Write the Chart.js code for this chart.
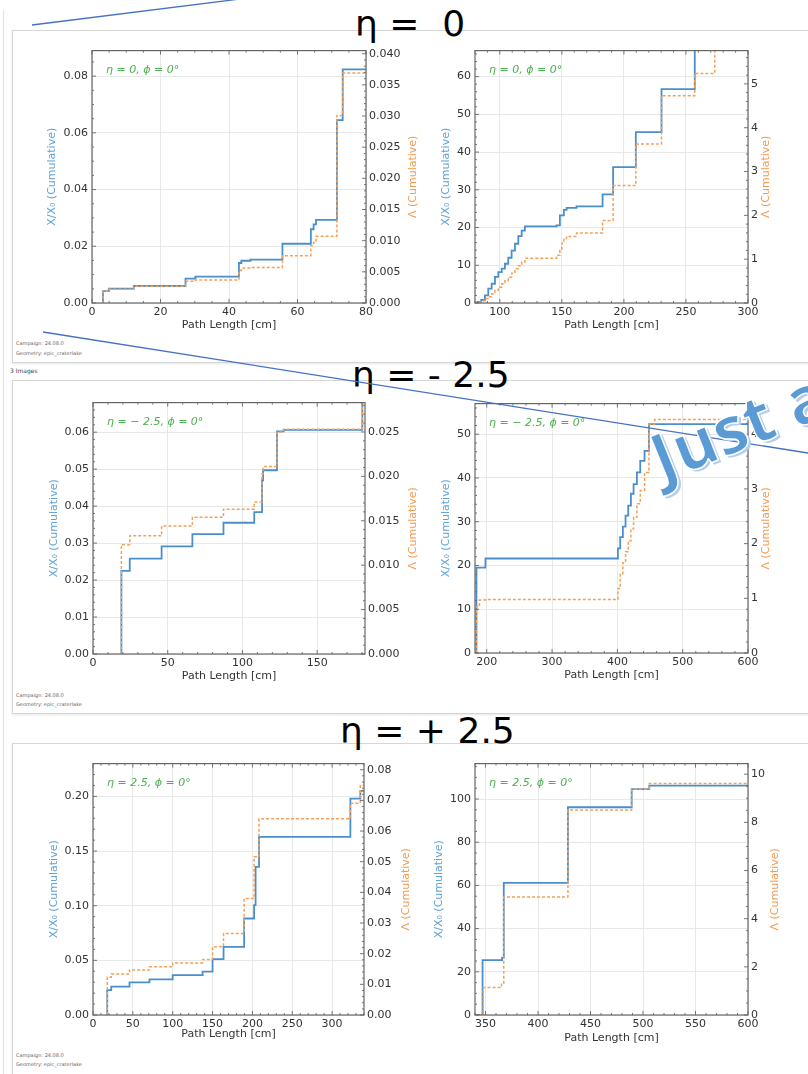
<!DOCTYPE html>
<html>
<head>
<meta charset="utf-8">
<script src="https://cdn.jsdelivr.net/npm/chart.js@4.4.0/dist/chart.umd.min.js"></script>
<style>
body{margin:0;width:808px;height:1074px;overflow:hidden;background:#fff;position:relative;font-family:"DejaVu Sans";}
.panel{position:absolute;left:12px;width:830px;border:1px solid #d6d6d6;box-shadow:0 1px 2px rgba(0,0,0,0.10);background:#fff;}
.meta{position:absolute;left:16px;font:5px "DejaVu Sans";color:#666;white-space:nowrap}
.head{position:absolute;font:36px "DejaVu Sans";white-space:pre;color:#000;line-height:42px}
canvas{position:absolute}
#wordart{position:absolute;left:660px;top:424px;font:bold 66px "Open Sans";line-height:66px;color:#5b9bd5;
  transform:rotate(-22deg);transform-origin:0 52px;-webkit-text-stroke:1.5px #ffffff;
  text-shadow:2px 3px 0 #b4cdea;white-space:pre}
</style>
</head>
<body>
<div style="position:absolute;left:3px;top:10px;width:1px;height:1064px;background:#e2e2e2"></div>
<div class="panel" style="top:30px;height:331px"></div>
<div class="panel" style="top:380px;height:332px"></div>
<div class="panel" style="top:743px;height:330px"></div>
<div class="meta" style="top:340px">Campaign: 24.08.0</div>
<div class="meta" style="top:350px">Geometry: epic_craterlake</div>
<div class="meta" style="left:10px;top:367px;font-size:6px;color:#444">3 Images</div>
<div class="meta" style="top:692px">Campaign: 24.08.0</div>
<div class="meta" style="top:701px">Geometry: epic_craterlake</div>
<div class="meta" style="top:1052px">Campaign: 24.08.0</div>
<div class="meta" style="top:1061px">Geometry: epic_craterlake</div>

<div class="head" style="left:355px;top:3px">η =  0</div>
<div class="head" style="left:352px;top:354px">η = - 2.5</div>
<div class="head" style="left:340px;top:710px">η = + 2.5</div>

<script>
// eta = 0, inner region (0-80 cm)
var eta0InX = [3, 3.2, 4.9, 12.2, 27.3, 30.2, 42.9, 43.6, 46.3, 55.6, 63.9, 64.7, 65.4, 71.5, 73.2, 80];
var eta0InX0 = [0, 0.0042, 0.0051, 0.006, 0.0086, 0.0093, 0.0141, 0.0149, 0.0153, 0.0209, 0.026, 0.0277, 0.0293, 0.0645, 0.0824, 0.0824];
var eta0InLam = [0, 0.0019, 0.0022, 0.0027, 0.0035, 0.0037, 0.0052, 0.0056, 0.0057, 0.0076, 0.0092, 0.0097, 0.0107, 0.0301, 0.0369, 0.0369];

// eta = 0, outer region (80-300 cm)
var eta0OutX = [80, 82, 85, 88, 90.7, 93.4, 96.1, 98.8, 101.5, 104.1, 106.8, 109.5, 112.2, 114.9, 117.6, 120.2, 145.7, 148.4, 150, 151.6, 153.8, 161.8, 182.8, 191.3, 209.6, 230.3, 257.1, 273.2, 300];
var eta0OutX0 = [0, 0.3, 0.8, 2.0, 3.8, 5.1, 6.9, 8.2, 9.1, 10.4, 12.0, 13.9, 15.7, 17.7, 19.2, 20.3, 20.6, 23.2, 23.2, 24.7, 25.2, 25.6, 28.8, 36.0, 45.3, 56.7, 72, 72, 72];
var eta0OutLam = [0, 0.02, 0.05, 0.1, 0.14, 0.21, 0.29, 0.36, 0.44, 0.51, 0.59, 0.68, 0.78, 0.85, 0.93, 1.02, 1.09, 1.2, 1.37, 1.47, 1.52, 1.6, 1.88, 2.68, 3.63, 4.73, 5.24, 6.5, 6.5];

// eta = -2.5, inner region
var etaMInX = [19, 19, 24.6, 45.9, 66.5, 87.3, 107.9, 113.1, 113.8, 123.1, 127.6, 180.2];
var etaMInX0 = [0, 0.0225, 0.0258, 0.0291, 0.0324, 0.0355, 0.0384, 0.047, 0.0497, 0.0602, 0.0606, 0.075];
var etaMInLam = [0, 0.0123, 0.0133, 0.0144, 0.0154, 0.0163, 0.0171, 0.0203, 0.0211, 0.025, 0.0253, 0.031];

// eta = -2.5, outer region
var etaMOutX = [184.2, 184.2, 188.8, 198, 400.8, 404.3, 408.4, 412.5, 416.6, 420.7, 424.8, 429.9, 435.0, 441.6, 448.3, 457, 600];
var etaMOutX0 = [0, 19.5, 19.5, 21.6, 23.9, 26.5, 28.9, 31.4, 33.7, 36.4, 38.6, 41.3, 43.9, 46.2, 52.3, 52.3, 52.3];
var etaMOutLam = [0, 0.85, 0.97, 0.98, 1.18, 1.45, 1.65, 1.85, 2.05, 2.27, 2.48, 2.73, 2.97, 3.3, 4.18, 4.27, 4.27];

// eta = +2.5, inner region
var etaPInX = [17.9, 17.9, 22.9, 45.8, 70.8, 100, 137.5, 150, 163.8, 189.6, 202.1, 204, 208.3, 322.9, 335.4, 340];
var etaPInX0 = [0, 0.0228, 0.0259, 0.0298, 0.0326, 0.0365, 0.0396, 0.0511, 0.0624, 0.0883, 0.1005, 0.1355, 0.1629, 0.198, 0.205, 0.205];
var etaPInLam = [0, 0.0123, 0.0134, 0.0147, 0.0157, 0.017, 0.0181, 0.0223, 0.0266, 0.038, 0.0516, 0.0516, 0.064, 0.0691, 0.0749, 0.0749];

// eta = +2.5, outer region
var etaPOutX = [340, 347.2, 347.8, 365.2, 365.8, 367.4, 428.5, 489.2, 506, 600];
var etaPOutX0 = [0, 25.4, 25.4, 25.4, 26.6, 61.2, 96.2, 104.6, 106.2, 106.2];
var etaPOutLam = [0, 0, 1.14, 1.31, 1.31, 4.9, 8.51, 9.38, 9.61, 9.61];

// tick labels
var ticksX1 = [0, 20, 40, 60, 80];
var ticksL1 = [0, 0.02, 0.04, 0.06, 0.08];
var ticksR1 = [0, 0.005, 0.01, 0.015, 0.02, 0.025, 0.03, 0.035, 0.04];
var ticksX2 = [100, 150, 200, 250, 300];
var ticksL2 = [0, 10, 20, 30, 40, 50, 60];
var ticksR2 = [0, 1, 2, 3, 4, 5];
var ticksX3 = [0, 50, 100, 150];
var ticksL3 = [0, 0.01, 0.02, 0.03, 0.04, 0.05, 0.06];
var ticksR3 = [0, 0.005, 0.01, 0.015, 0.02, 0.025];
var ticksX4 = [200, 300, 400, 500, 600];
var ticksL4 = [0, 10, 20, 30, 40, 50];
var ticksR4 = [0, 1, 2, 3, 4];
var ticksX5 = [0, 50, 100, 150, 200, 250, 300];
var ticksL5 = [0, 0.05, 0.1, 0.15, 0.2];
var ticksR5 = [0, 0.01, 0.02, 0.03, 0.04, 0.05, 0.06, 0.07, 0.08];
var ticksX6 = [350, 400, 450, 500, 550, 600];
var ticksL6 = [0, 20, 40, 60, 80, 100];
var ticksR6 = [0, 2, 4, 6, 8, 10];

var BLUE = '#4a8fcb';
var ORANGE = '#f5a057';
var BLUE_T = '#5fa2d8';
var ORANGE_T = '#f29a4e';
var TICK = '#333333';
var FONT = {family: 'DejaVu Sans', size: 11};

// minor tick subdivisions like matplotlib's AutoMinorLocator
function nDiv(step) {
  var m = step / Math.pow(10, Math.floor(Math.log10(step)));
  m = Math.round(m * 100) / 100;
  return (m === 1 || m === 5 || m === 10) ? 5 : 4;
}

function drawTicks(ctx, s, a, sides) {
  var vals = s.ticks.map(function(t){ return t.value; });
  var step = vals[1] - vals[0];
  var minor = step / nDiv(step);
  var start = Math.ceil((s.min - 1e-9) / minor);
  for (var k = start; k * minor <= s.max + 1e-9; k++) {
    var v = k * minor;
    var isMajor = Math.abs(v / step - Math.round(v / step)) < 1e-6;
    var len = isMajor ? 4 : 2;
    var p = s.getPixelForValue(v);
    sides.forEach(function(side) {
      ctx.beginPath();
      if (side === 'bottom') { ctx.moveTo(p, a.bottom); ctx.lineTo(p, a.bottom - len); }
      if (side === 'top') { ctx.moveTo(p, a.top); ctx.lineTo(p, a.top + len); }
      if (side === 'left') { ctx.moveTo(a.left, p); ctx.lineTo(a.left + len, p); }
      if (side === 'right') { ctx.moveTo(a.right, p); ctx.lineTo(a.right - len, p); }
      ctx.stroke();
    });
  }
}

var framePlugin = {
  id: 'frame',
  afterDraw: function(chart, args, opts) {
    var a = chart.chartArea, ctx = chart.ctx;
    ctx.save();
    ctx.strokeStyle = '#666';
    ctx.lineWidth = 1.2;
    ctx.strokeRect(a.left, a.top, a.right - a.left, a.bottom - a.top);
    ctx.lineWidth = 0.9;
    drawTicks(ctx, chart.scales.x, a, ['bottom', 'top']);
    drawTicks(ctx, chart.scales.yL, a, ['left']);
    drawTicks(ctx, chart.scales.yR, a, ['right']);
    ctx.fillStyle = '#4caf50';
    ctx.font = 'italic 11px "DejaVu Sans"';
    ctx.textBaseline = 'middle';
    ctx.fillText(opts.note, a.left + 14, a.top + 20);
    ctx.translate(chart.width - 10.6, (a.top + a.bottom) / 2);
    ctx.rotate(-Math.PI / 2);
    ctx.textAlign = 'center';
    ctx.fillStyle = ORANGE_T;
    ctx.font = '11px "DejaVu Sans"';
    ctx.fillText('Λ (Cumulative)', 0, 0);
    ctx.restore();
  }
};

function setTicks(vals) {
  return function(s) { s.ticks = vals.map(function(v){ return {value: v}; }); };
}

function makeChart(c) {
  var cv = document.createElement('canvas');
  cv.width = c.w; cv.height = c.h;
  cv.style.left = c.left + 'px'; cv.style.top = c.top + 'px';
  document.body.appendChild(cv);
  new Chart(cv, {
    type: 'line',
    data: {
      datasets: [{
        label: 'Λ',
        data: c.xs.map(function(x, i){ return {x: x, y: c.lam[i]}; }),
        yAxisID: 'yR',
        borderColor: ORANGE,
        borderWidth: 1.5,
        borderDash: [3, 2],
        pointRadius: 0,
        stepped: true,
        fill: false
      }, {
        label: 'X/X0',
        data: c.xs.map(function(x, i){ return {x: x, y: c.x0[i]}; }),
        yAxisID: 'yL',
        borderColor: BLUE,
        borderWidth: 1.8,
        pointRadius: 0,
        stepped: true,
        fill: false
      }]
    },
    options: {
      responsive: false,
      animation: false,
      layout: {padding: {top: 10}},
      plugins: {legend: {display: false}, tooltip: {enabled: false}, frame: {note: c.note}},
      scales: {
        x: {
          type: 'linear', min: c.xMin, max: c.xMax,
          afterBuildTicks: setTicks(c.tx),
          afterFit: function(s){ s.height = c.bottomH; },
          grid: {color: '#e8e8e8', drawTicks: false},
          border: {display: false},
          ticks: {padding: 3, color: TICK, font: FONT, autoSkip: false, maxRotation: 0,
                  callback: function(v){ return v.toFixed(0); }},
          title: {display: true, text: 'Path Length [cm]', color: TICK, font: FONT, padding: {top: 2, bottom: 4}}
        },
        yL: {
          type: 'linear', position: 'left', min: 0, max: c.lMax,
          afterBuildTicks: setTicks(c.tl),
          afterFit: function(s){ s.width = c.leftW; },
          grid: {color: '#e8e8e8', drawTicks: false},
          border: {display: false},
          ticks: {padding: 4, color: TICK, font: FONT, autoSkip: false,
                  callback: function(v){ return v.toFixed(c.dl); }},
          title: {display: true, text: 'X/X₀ (Cumulative)', color: BLUE_T, font: FONT, padding: {top: 4, bottom: 4}}
        },
        yR: {
          type: 'linear', position: 'right', min: 0, max: c.rMax,
          afterBuildTicks: setTicks(c.tr),
          afterFit: function(s){ s.width = c.rightW; },
          grid: {display: false, drawTicks: false},
          border: {display: false},
          ticks: {padding: 3, color: TICK, font: FONT, autoSkip: false,
                  callback: function(v){ return v.toFixed(c.dr); }}
        }
      }
    },
    plugins: [framePlugin]
  });
}

makeChart({left: 42, top: 40, w: 382, h: 296, leftW: 50, rightW: 58, bottomH: 33,
  xs: eta0InX, x0: eta0InX0, lam: eta0InLam, xMin: 0, xMax: 80, lMax: 0.089, rMax: 0.0405,
  tx: ticksX1, tl: ticksL1, tr: ticksR1, dl: 2, dr: 3, note: 'η = 0, ϕ = 0°'});
makeChart({left: 436, top: 40, w: 341, h: 296, leftW: 39, rightW: 29, bottomH: 33,
  xs: eta0OutX, x0: eta0OutX0, lam: eta0OutLam, xMin: 80, xMax: 300, lMax: 66.9, rMax: 5.76,
  tx: ticksX2, tl: ticksL2, tr: ticksR2, dl: 0, dr: 0, note: 'η = 0, ϕ = 0°'});
makeChart({left: 44, top: 392, w: 380, h: 295, leftW: 49, rightW: 59, bottomH: 33,
  xs: etaMInX, x0: etaMInX0, lam: etaMInLam, xMin: 0, xMax: 182, lMax: 0.068, rMax: 0.0283,
  tx: ticksX3, tl: ticksL3, tr: ticksR3, dl: 2, dr: 3, note: 'η = − 2.5, ϕ = 0°'});
makeChart({left: 436, top: 393, w: 341, h: 293, leftW: 39, rightW: 29, bottomH: 33,
  xs: etaMOutX, x0: etaMOutX0, lam: etaMOutLam, xMin: 182, xMax: 600, lMax: 57, rMax: 4.56,
  tx: ticksX4, tl: ticksL4, tr: ticksR4, dl: 0, dr: 0, note: 'η = − 2.5, ϕ = 0°'});
makeChart({left: 44, top: 753, w: 373, h: 292, leftW: 49, rightW: 53, bottomH: 30,
  xs: etaPInX, x0: etaPInX0, lam: etaPInLam, xMin: 0, xMax: 340, lMax: 0.23, rMax: 0.082,
  tx: ticksX5, tl: ticksL5, tr: ticksR5, dl: 2, dr: 2, note: 'η = 2.5, ϕ = 0°'});
makeChart({left: 429, top: 753, w: 357, h: 296, leftW: 46, rightW: 38, bottomH: 34,
  xs: etaPOutX, x0: etaPOutX0, lam: etaPOutLam, xMin: 340, xMax: 600, lMax: 116.4, rMax: 10.44,
  tx: ticksX6, tl: ticksL6, tr: ticksR6, dl: 0, dr: 0, note: 'η = 2.5, ϕ = 0°'});
</script>

<svg width="808" height="1074" style="position:absolute;left:0;top:0;pointer-events:none">
  <line x1="32" y1="25" x2="240" y2="-1" stroke="#4472c4" stroke-width="1.3"/>
  <line x1="43" y1="332" x2="808" y2="453" stroke="#4472c4" stroke-width="1.3"/>
</svg>
<div id="wordart">Just a</div>
</body>
</html>
